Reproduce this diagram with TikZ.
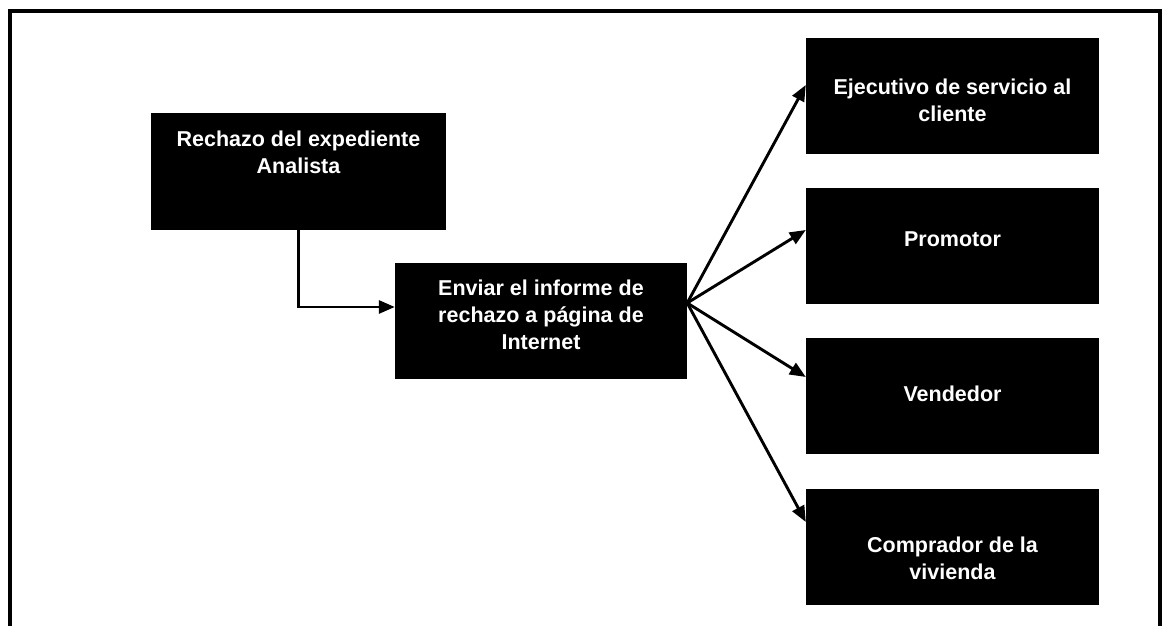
\documentclass[tikz,border=0pt]{standalone}
\usepackage{fontspec}
\setmainfont{Liberation Sans}
\usetikzlibrary{arrows.meta,calc}
\begin{document}
\begin{tikzpicture}[x=1pt,y=1pt,
  blackbox/.style={fill=black,draw=none,inner sep=0pt,minimum width=294pt,minimum height=116pt},
  boxtext/.style={text=white,align=center,inner sep=0pt,
    font=\fontsize{21.5}{27}\selectfont\bfseries},
  link/.style={line width=2.9pt,-{Triangle[length=16pt,width=13pt]}},
  frameline/.style={line width=4pt}
]
\useasboundingbox (0,0) rectangle (1170,626);

% outer frame, open at the bottom
\draw[frameline] (9.5,0) -- (9.5,615) -- (1160,615) -- (1160,0);

% boxes
\node[blackbox,minimum width=295pt,minimum height=117pt] (r) at (298.5,454.5) {};
\node[blackbox,minimum width=292pt] (e) at (541,305) {};
\node[blackbox,minimum width=293pt] (a) at (952.5,530) {};
\node[blackbox,minimum width=293pt] (b) at (952.5,379.5) {};
\node[blackbox,minimum width=293pt] (c) at (952.5,229.5) {};
\node[blackbox,minimum width=293pt] (d) at (952.5,79) {};

% box labels
\node[boxtext] (rt) at ([yshift=19.5pt]r.center) {Rechazo del expediente\\Analista};
\node[boxtext] (et) at ([yshift=6pt]e.center) {Enviar el informe de\\rechazo a página de\\Internet};
\node[boxtext] (at) at ([yshift=-4pt]a.center) {Ejecutivo de servicio al\\cliente};
\node[boxtext] (bt) at ([yshift=7.5pt]b.center) {Promotor};
\node[boxtext] (ct) at ([yshift=2.5pt]c.center) {Vendedor};
\node[boxtext] (dt) at ([yshift=-11.5pt]d.center) {Comprador de la\\vivienda};

% connectors
\coordinate (src) at ([yshift=18pt]e.east);
\draw[link] (r.south) |- ([yshift=14pt]e.west);
\draw[link] (src) -- ([yshift=11pt]a.west);
\draw[link] (src) -- ([yshift=16.5pt]b.west);
\draw[link] (src) -- ([yshift=19.5pt]c.west);
\draw[link] (src) -- ([yshift=25pt]d.west);
\end{tikzpicture}
\end{document}
